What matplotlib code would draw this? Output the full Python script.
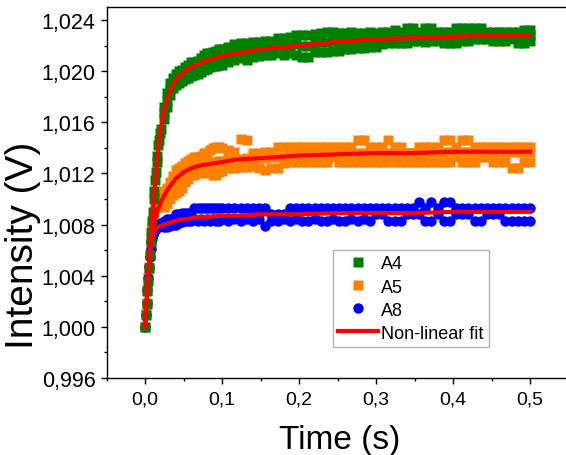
import numpy as np
import matplotlib
matplotlib.use('Agg')
import matplotlib.pyplot as plt
from matplotlib.ticker import MultipleLocator, FuncFormatter
from matplotlib.lines import Line2D

plt.rcParams['font.family'] = ['Liberation Sans', 'DejaVu Sans']

# sample times (s): dense during the fast rise, then coarser
time_rise = [0.000, 0.001, 0.002, 0.003, 0.004, 0.005, 0.006, 0.007, 0.008, 0.009, 0.010,
             0.011, 0.012, 0.013, 0.014, 0.015, 0.016, 0.017, 0.018, 0.019, 0.020]
time_main = [0.024, 0.028, 0.032, 0.036, 0.040, 0.044, 0.048, 0.052, 0.056, 0.060,
             0.064, 0.068, 0.072, 0.076, 0.080, 0.084, 0.088, 0.092, 0.096, 0.100,
             0.108, 0.116, 0.124, 0.132, 0.140, 0.148, 0.156, 0.164, 0.172, 0.180,
             0.188, 0.196, 0.204, 0.212, 0.220, 0.228, 0.236, 0.244, 0.252, 0.260,
             0.268, 0.276, 0.284, 0.292, 0.300, 0.308, 0.316, 0.324, 0.332, 0.340,
             0.348, 0.356, 0.364, 0.372, 0.380, 0.388, 0.396, 0.404, 0.412, 0.420,
             0.428, 0.436, 0.444, 0.452, 0.460, 0.468, 0.476, 0.484, 0.492, 0.500]

# A4 (V)
a4_rise = [1.0000, 1.0009, 1.0018, 1.0028, 1.0036, 1.0046, 1.0056, 1.0066, 1.0074, 1.0083, 1.0090,
           1.0100, 1.0106, 1.0115, 1.0121, 1.0129, 1.0134, 1.0142, 1.0146, 1.0152, 1.0155]
a4_top = [1.0172, 1.0183, 1.0191, 1.0195, 1.0198, 1.0200, 1.0201, 1.0203, 1.0205, 1.0207,
          1.0207, 1.0208, 1.0210, 1.0213, 1.0214, 1.0214, 1.0215, 1.0216, 1.0217, 1.0217,
          1.0219, 1.0221, 1.0222, 1.0222, 1.0223, 1.0223, 1.0224, 1.0224, 1.0226, 1.0226,
          1.0227, 1.0228, 1.0228, 1.0228, 1.0229, 1.0230, 1.0231, 1.0231, 1.0230, 1.0230,
          1.0231, 1.0230, 1.0230, 1.0231, 1.0230, 1.0231, 1.0231, 1.0232, 1.0231, 1.0234,
          1.0234, 1.0231, 1.0234, 1.0234, 1.0231, 1.0231, 1.0231, 1.0234, 1.0234, 1.0234,
          1.0234, 1.0234, 1.0231, 1.0231, 1.0231, 1.0231, 1.0231, 1.0231, 1.0232, 1.0232]
a4_mid = [1.0167, 1.0177, 1.0186, 1.0191, 1.0194, 1.0196, 1.0197, 1.0199, 1.0200, 1.0202,
          1.0202, 1.0203, 1.0205, 1.0207, 1.0208, 1.0209, 1.0210, 1.0210, 1.0211, 1.0211,
          1.0213, 1.0215, 1.0216, 1.0216, 1.0217, 1.0218, 1.0218, 1.0219, 1.0220, 1.0220,
          1.0221, 1.0221, 1.0220, 1.0220, 1.0222, 1.0223, 1.0223, 1.0224, 1.0223, 1.0224,
          1.0224, 1.0224, 1.0224, 1.0225, 1.0225, 1.0226, 1.0226, 1.0227, 1.0226, 1.0227,
          1.0228, 1.0227, 1.0228, 1.0228, 1.0228, 1.0228, 1.0228, 1.0228, 1.0229, 1.0229,
          1.0229, 1.0229, 1.0228, 1.0228, 1.0228, 1.0228, 1.0228, 1.0228, 1.0228, 1.0228]
a4_bot = [1.0163, 1.0172, 1.0181, 1.0187, 1.0189, 1.0191, 1.0192, 1.0194, 1.0195, 1.0196,
          1.0197, 1.0198, 1.0199, 1.0201, 1.0202, 1.0203, 1.0204, 1.0204, 1.0205, 1.0205,
          1.0207, 1.0209, 1.0210, 1.0209, 1.0211, 1.0212, 1.0213, 1.0213, 1.0214, 1.0213,
          1.0214, 1.0213, 1.0211, 1.0211, 1.0215, 1.0215, 1.0215, 1.0216, 1.0216, 1.0217,
          1.0217, 1.0218, 1.0218, 1.0219, 1.0219, 1.0221, 1.0222, 1.0222, 1.0222, 1.0222,
          1.0224, 1.0224, 1.0223, 1.0224, 1.0224, 1.0222, 1.0222, 1.0222, 1.0224, 1.0224,
          1.0225, 1.0225, 1.0225, 1.0224, 1.0224, 1.0224, 1.0225, 1.0222, 1.0222, 1.0224]

# A5 (V)
a5_rise = [1.0000, 1.0010, 1.0019, 1.0029, 1.0039, 1.0047, 1.0056, 1.0063, 1.0070, 1.0078, 1.0083,
           1.0087, 1.0090, 1.0092, 1.0094, 1.0096, 1.0097, 1.0099, 1.0100, 1.0102, 1.0103]
a5_top = [1.0106, 1.0109, 1.0113, 1.0118, 1.0123, 1.0124, 1.0126, 1.0128, 1.0130, 1.0131,
          1.0133, 1.0133, 1.0134, 1.0136, 1.0136, 1.0138, 1.0140, 1.0141, 1.0141, 1.0140,
          1.0138, 1.0137, 1.0147, 1.0146, 1.0136, 1.0136, 1.0137, 1.0137, 1.0141, 1.0141,
          1.0141, 1.0141, 1.0141, 1.0141, 1.0141, 1.0141, 1.0141, 1.0141, 1.0141, 1.0141,
          1.0141, 1.0146, 1.0146, 1.0141, 1.0141, 1.0141, 1.0146, 1.0141, 1.0141, 1.0136,
          1.0136, 1.0141, 1.0141, 1.0141, 1.0141, 1.0146, 1.0146, 1.0141, 1.0146, 1.0146,
          1.0141, 1.0141, 1.0141, 1.0141, 1.0141, 1.0141, 1.0141, 1.0141, 1.0141, 1.0141]
a5_mid = [1.0101, 1.0104, 1.0108, 1.0111, 1.0114, 1.0116, 1.0119, 1.0120, 1.0122, 1.0124,
          1.0125, 1.0126, 1.0127, 1.0127, 1.0128, 1.0128, 1.0129, 1.0129, 1.0130, 1.0130,
          1.0131, 1.0131, 1.0131, 1.0132, 1.0132, 1.0132, 1.0132, 1.0133, 1.0133, 1.0133,
          1.0134, 1.0134, 1.0134, 1.0134, 1.0135, 1.0135, 1.0135, 1.0135, 1.0135, 1.0135,
          1.0135, 1.0136, 1.0136, 1.0136, 1.0136, 1.0136, 1.0136, 1.0136, 1.0136, 1.0136,
          1.0136, 1.0136, 1.0137, 1.0137, 1.0137, 1.0137, 1.0137, 1.0137, 1.0137, 1.0137,
          1.0137, 1.0137, 1.0137, 1.0137, 1.0137, 1.0137, 1.0137, 1.0137, 1.0137, 1.0137]
a5_bot = [1.0094, 1.0096, 1.0100, 1.0103, 1.0105, 1.0106, 1.0109, 1.0113, 1.0116, 1.0119,
          1.0119, 1.0120, 1.0120, 1.0121, 1.0121, 1.0120, 1.0119, 1.0119, 1.0121, 1.0122,
          1.0124, 1.0124, 1.0125, 1.0125, 1.0126, 1.0124, 1.0123, 1.0124, 1.0124, 1.0128,
          1.0129, 1.0129, 1.0129, 1.0129, 1.0129, 1.0129, 1.0129, 1.0133, 1.0129, 1.0129,
          1.0129, 1.0129, 1.0129, 1.0129, 1.0129, 1.0129, 1.0129, 1.0129, 1.0129, 1.0129,
          1.0129, 1.0129, 1.0129, 1.0129, 1.0129, 1.0129, 1.0129, 1.0133, 1.0129, 1.0129,
          1.0129, 1.0133, 1.0133, 1.0129, 1.0129, 1.0129, 1.0124, 1.0124, 1.0129, 1.0129]

# A8 (V)
a8_rise = [1.0000, 1.0009, 1.0019, 1.0029, 1.0038, 1.0047, 1.0055, 1.0061, 1.0066, 1.0069, 1.0072,
           1.0074, 1.0075, 1.0076, 1.0078, 1.0077, 1.0079, 1.0078, 1.0080, 1.0079, 1.0081]
a8_top = [1.0083, 1.0084, 1.0084, 1.0084, 1.0088, 1.0088, 1.0089, 1.0089, 1.0089, 1.0089,
          1.0093, 1.0093, 1.0093, 1.0093, 1.0093, 1.0093, 1.0093, 1.0093, 1.0093, 1.0093,
          1.0093, 1.0093, 1.0093, 1.0093, 1.0093, 1.0093, 1.0093, 1.0088, 1.0088, 1.0088,
          1.0093, 1.0093, 1.0093, 1.0093, 1.0093, 1.0093, 1.0093, 1.0093, 1.0093, 1.0093,
          1.0093, 1.0093, 1.0093, 1.0093, 1.0093, 1.0093, 1.0093, 1.0093, 1.0093, 1.0093,
          1.0093, 1.0098, 1.0093, 1.0098, 1.0093, 1.0098, 1.0098, 1.0093, 1.0093, 1.0093,
          1.0093, 1.0093, 1.0093, 1.0093, 1.0093, 1.0093, 1.0093, 1.0093, 1.0093, 1.0093]
a8_bot = [1.0078, 1.0078, 1.0079, 1.0080, 1.0080, 1.0081, 1.0082, 1.0083, 1.0083, 1.0083,
          1.0084, 1.0083, 1.0084, 1.0083, 1.0084, 1.0083, 1.0084, 1.0083, 1.0083, 1.0084,
          1.0083, 1.0084, 1.0083, 1.0084, 1.0083, 1.0084, 1.0079, 1.0083, 1.0083, 1.0084,
          1.0083, 1.0084, 1.0083, 1.0083, 1.0084, 1.0083, 1.0083, 1.0084, 1.0083, 1.0083,
          1.0084, 1.0083, 1.0084, 1.0083, 1.0088, 1.0088, 1.0083, 1.0083, 1.0083, 1.0088,
          1.0088, 1.0088, 1.0083, 1.0083, 1.0088, 1.0083, 1.0083, 1.0088, 1.0088, 1.0088,
          1.0083, 1.0083, 1.0088, 1.0088, 1.0088, 1.0083, 1.0083, 1.0083, 1.0083, 1.0083]

# non-linear fit curves
fit_time = [0.0, 0.002, 0.004, 0.006, 0.008, 0.010, 0.0125, 0.015, 0.0175, 0.02,
            0.025, 0.03, 0.035, 0.04, 0.05, 0.06, 0.07, 0.08, 0.1, 0.12,
            0.15, 0.2, 0.25, 0.3, 0.35, 0.4, 0.45, 0.5]
a4_fit = [1.0000, 1.0020, 1.0039, 1.0057, 1.0074, 1.0090, 1.0109, 1.0126, 1.0141, 1.0153,
          1.0169, 1.0180, 1.0188, 1.0193, 1.0199, 1.0203, 1.0206, 1.0208, 1.0212, 1.0214,
          1.0217, 1.0220, 1.0223, 1.0225, 1.0226, 1.0227, 1.0228, 1.0228]
a5_fit = [1.0000, 1.0020, 1.0039, 1.0056, 1.0068, 1.0077, 1.0084, 1.0089, 1.0093, 1.0097,
          1.0103, 1.0108, 1.0112, 1.0116, 1.0121, 1.0124, 1.0126, 1.0127, 1.0129, 1.0131,
          1.0132, 1.0134, 1.0135, 1.0136, 1.0136, 1.0137, 1.0137, 1.0137]
a8_fit = [1.0000, 1.0020, 1.0040, 1.0056, 1.0066, 1.0072, 1.0075, 1.0077, 1.0078, 1.0079,
          1.0080, 1.0081, 1.0082, 1.0083, 1.0084, 1.0085, 1.0086, 1.0086, 1.0087, 1.0087,
          1.0088, 1.0088, 1.0089, 1.0089, 1.0089, 1.0090, 1.0090, 1.0090]

GREEN = '#008000'
ORANGE = '#ff8000'
BLUE = '#0000ff'
RED = '#ff0000'
SQ_MS = 7.0
CI_MS = 7.5

fig = plt.figure(figsize=(5.66, 4.56), dpi=100)
# right spine sits just outside the picture, as in the cropped original
ax = fig.add_axes([0.1885, 0.1689, 0.8159, 0.8129])


def plot_points(rise, rows, marker, ms, color, z):
    ax.plot(time_rise, rise, ls='none', marker=marker, ms=ms, color=color, mec='none', zorder=z)
    for row in rows:
        ax.plot(time_main, row, ls='none', marker=marker, ms=ms, color=color, mec='none', zorder=z)


plot_points(a5_rise, [a5_top, a5_mid, a5_bot], 's', SQ_MS, ORANGE, 2)
plot_points(a8_rise, [a8_top, a8_bot], 'o', CI_MS, BLUE, 3)
plot_points(a4_rise, [a4_top, a4_mid, a4_bot], 's', SQ_MS, GREEN, 4)

for fit in (a4_fit, a5_fit, a8_fit):
    ax.plot(fit_time, fit, color=RED, lw=3, solid_joinstyle='round', zorder=5)

ax.set_xlim(-0.05, 0.55)
ax.set_ylim(0.996, 1.025)
ax.xaxis.set_major_locator(MultipleLocator(0.1))
ax.xaxis.set_minor_locator(MultipleLocator(0.05))
ax.yaxis.set_major_locator(MultipleLocator(0.004))
ax.yaxis.set_minor_locator(MultipleLocator(0.002))


def comma_fmt(digits):
    def f(v, pos):
        if abs(v) < 1e-9:
            v = 0.0
        return f'{v:.{digits}f}'.replace('.', ',')
    return FuncFormatter(f)


ax.xaxis.set_major_formatter(comma_fmt(1))
ax.yaxis.set_major_formatter(comma_fmt(3))

ax.tick_params(which='major', direction='out', length=4.5, width=1)
ax.tick_params(which='minor', direction='out', length=2.5, width=1)
ax.tick_params(axis='x', which='major', pad=4.5, labelsize=14)
ax.tick_params(axis='y', which='major', pad=3.5, labelsize=15.5)
for sp in ax.spines.values():
    sp.set_linewidth(1.0)

ax.set_xlabel('Time (s)', fontsize=24)
ax.xaxis.set_label_coords(0.505, -0.124)
ax.set_ylabel('Intensity (V)', fontsize=28)
ax.yaxis.set_label_coords(-0.142, 0.36)

handles = [
    Line2D([], [], ls='none', marker='s', ms=SQ_MS, color=GREEN, mec='none'),
    Line2D([], [], ls='none', marker='s', ms=SQ_MS, color=ORANGE, mec='none'),
    Line2D([], [], ls='none', marker='o', ms=CI_MS, color=BLUE, mec='none'),
    Line2D([], [], color=RED, lw=3),
]
leg = ax.legend(handles, ['A4', 'A5', 'A8', 'Non-linear fit'], loc='upper left',
                bbox_to_anchor=(0.4894, 0.3453), borderaxespad=0, fontsize=13,
                frameon=True, fancybox=False, edgecolor='#b4b4b4', framealpha=1,
                handlelength=2.2, handletextpad=0.2, labelspacing=0.34, borderpad=0.3)
leg.get_frame().set_linewidth(1.0)

fig.savefig('out.png', dpi=100)
